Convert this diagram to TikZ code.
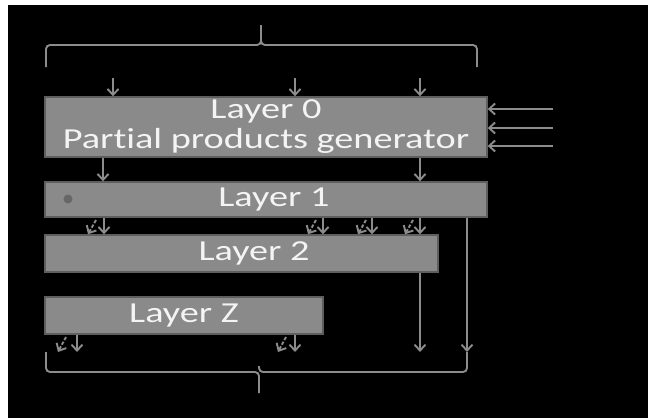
\documentclass[tikz,border=0pt]{standalone}
\usepackage{fontspec}
\setmainfont{Carlito}[Ligatures=NoCommon]
\usepackage{graphicx}
\usepackage{tikz}
\usetikzlibrary{arrows.meta,positioning}
\definecolor{layergray}{HTML}{8A8A8A}
\definecolor{layeredge}{HTML}{5E5E5E}
\definecolor{wiregray}{HTML}{8C8C8C}
\definecolor{labelwhite}{HTML}{F4F4F4}
\newcommand{\wide}[1]{\scalebox{1.32}[1]{#1}}

\begin{document}
\begin{tikzpicture}[
  x=1pt, y=-1pt,
  layer/.style={
    rectangle,
    draw=layeredge,
    line width=1.4pt,
    fill=layergray,
    align=center,
    inner sep=0pt,
    text=labelwhite,
    font=\fontsize{29}{30}\selectfont
  },
  wire/.style={draw=wiregray, line width=1.9pt},
  arr/.style={wire, -{Straight Barb[length=6pt,width=11pt]}},
  carry/.style={arr, dash pattern=on 3.5pt off 1.8pt}
]

% page and background
\fill[white] (0,0) rectangle (648,418);
\fill[black] (8,5) rectangle (648,418);

% layers
\node[layer, minimum width=442pt, minimum height=60pt] (lay0) at (266,127) {
  \wide{Layer 0}\\
  \wide{Partial products generator}
};
\node[layer, minimum width=442pt, minimum height=35pt] (lay1) at (266,199.5) {\wide{\hspace*{12pt}Layer 1}};
\node[layer, minimum width=393pt, minimum height=37pt] (lay2) at (241.5,253.5) {\wide{\hspace*{19pt}Layer 2}};
\node[layer, minimum width=278pt, minimum height=37pt] (layZ) at (184,315.5) {\wide{Layer Z}};
\fill[layeredge!80!layergray] (68,199) circle (4.5pt);

% top brace
\draw[wire, rounded corners=4pt] (46,67) -- (46,45) -- (261,45) -- (261,25);
\draw[wire, rounded corners=4pt] (261,30) -- (261,45) -- (477,45) -- (477,67);

% inputs of layer 0
\draw[arr] (113,78) -- (113,0 |- lay0.north);
\draw[arr] (295,78) -- (295,0 |- lay0.north);
\draw[arr] (420,78) -- (420,0 |- lay0.north);
\draw[arr] (553,109) -- (lay0.east |- 0,109);
\draw[arr] (553,128) -- (lay0.east |- 0,128);
\draw[arr] (553,146) -- (lay0.east |- 0,146);

% layer 0 to layer 1
\draw[arr] (103,0 |- lay0.south) -- (103,0 |- lay1.north);
\draw[arr] (420,0 |- lay0.south) -- (420,0 |- lay1.north);

% layer 1 to layer 2
\draw[carry] (96,220) -- (88,0 |- lay2.north);
\draw[arr] (104,0 |- lay1.south) -- (104,0 |- lay2.north);
\draw[carry] (316,220) -- (308,0 |- lay2.north);
\draw[arr] (323,0 |- lay1.south) -- (323,0 |- lay2.north);
\draw[carry] (366,220) -- (358,0 |- lay2.north);
\draw[arr] (372,0 |- lay1.south) -- (372,0 |- lay2.north);
\draw[carry] (413,220) -- (405,0 |- lay2.north);
\draw[arr] (420,0 |- lay1.south) -- (420,0 |- lay2.north);

% outputs
\coordinate (outA) at (420,352);
\coordinate (outB) at (467,352);
\draw[arr] (420,0 |- lay2.south) -- (outA);
\draw[arr] (467,0 |- lay1.south) -- (outB);
\draw[carry] (66,337) -- (58,352);
\draw[arr] (77,0 |- layZ.south) -- (77,352);
\draw[carry] (286,337) -- (278,352);
\draw[arr] (295,0 |- layZ.south) -- (295,352);

% bottom brace
\draw[wire, rounded corners=4pt] (46,352) -- (46,372) -- (259,372) -- (259,393);
\draw[wire, rounded corners=4pt] (259,366) -- (259,372) -- (467,372) -- (outB);

\end{tikzpicture}
\end{document}
